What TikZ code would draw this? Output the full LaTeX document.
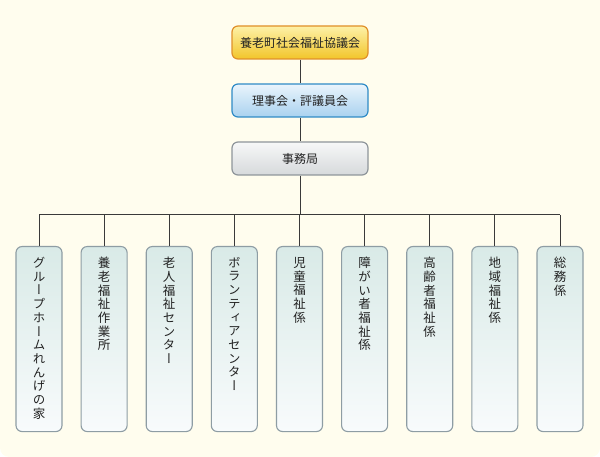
\documentclass[tikz,border=0pt]{standalone}
\usepackage{fontspec}
\setmainfont{Noto Sans CJK JP}
\newfontfamily\vfont[RawFeature=+vert]{Noto Sans CJK JP}
\definecolor{bgc}{HTML}{FFFDEE}
\definecolor{txt}{HTML}{222222}
\definecolor{linec}{HTML}{3A3A3A}
\definecolor{ytop}{HTML}{FDF1A8}
\definecolor{ybot}{HTML}{F2C52A}
\definecolor{yborder}{HTML}{E0902A}
\definecolor{btop}{HTML}{EAF4FC}
\definecolor{bbot}{HTML}{A9D2EF}
\definecolor{bborder}{HTML}{2F8BC6}
\definecolor{gtop}{HTML}{F7F8F8}
\definecolor{gbot}{HTML}{D6D9DB}
\definecolor{gborder}{HTML}{8E959A}
\definecolor{ttop}{HTML}{D9EAE7}
\definecolor{tbot}{HTML}{F8FBFC}
\definecolor{tborder}{HTML}{8E9DA4}
\tikzset{
  topbox/.style={draw, line width=1.2pt, rounded corners=6pt, minimum width=136pt, minimum height=33pt, inner sep=0pt, font=\fontsize{12}{14}\selectfont, text=txt},
  kaibox/.style={topbox, draw=yborder, top color=ytop, bottom color=ybot},
  rijibox/.style={topbox, draw=bborder, top color=btop, bottom color=bbot},
  jimubox/.style={topbox, draw=gborder, top color=gtop, bottom color=gbot},
  unitbox/.style={draw=tborder, line width=1.1pt, rounded corners=6pt, minimum width=46pt, minimum height=185pt, inner sep=0pt, top color=ttop, bottom color=tbot, anchor=north},
  vlabel/.style={anchor=north, align=center, inner sep=0pt, text=txt, font=\vfont\fontsize{12.5}{13.7}\selectfont},
  conn/.style={draw=linec, line width=1pt}
}
\begin{document}
\begin{tikzpicture}[x=1pt,y=-1pt]
\useasboundingbox (0,0) rectangle (600,457);
\fill[bgc, rounded corners=9pt] (0,0) rectangle (600,457);
\fill[bgc] (0,0) rectangle (600,30);
\node[kaibox] (kai) at (300,42.5) {養老町社会福祉協議会};
\node[rijibox] (riji) at (300,100.5) {理事会・評議員会};
\node[jimubox] (jimu) at (300,158.5) {事務局};
\coordinate (bus) at (300,215);
\foreach \i/\x in {1/39,2/104.1,3/169.2,4/234.3,5/299.5,6/364.6,7/429.7,8/494.8,9/560}{
  \node[unitbox] (u\i) at (\x,246) {};
}
\node[vlabel] (t1) at ([yshift=-11pt]u1.north) {グ\\ル\\ー\\プ\\ホ\\ー\\ム\\れ\\ん\\げ\\の\\家};
\node[vlabel] (t2) at ([yshift=-11pt]u2.north) {養\\老\\福\\祉\\作\\業\\所};
\node[vlabel] (t3) at ([yshift=-11pt]u3.north) {老\\人\\福\\祉\\セ\\ン\\タ\\ー};
\node[vlabel] (t4) at ([yshift=-11pt]u4.north) {ボ\\ラ\\ン\\テ\\ィ\\ア\\セ\\ン\\タ\\ー};
\node[vlabel] (t5) at ([yshift=-11pt]u5.north) {児\\童\\福\\祉\\係};
\node[vlabel] (t6) at ([yshift=-11pt]u6.north) {障\\が\\い\\者\\福\\祉\\係};
\node[vlabel] (t7) at ([yshift=-11pt]u7.north) {高\\齢\\者\\福\\祉\\係};
\node[vlabel] (t8) at ([yshift=-11pt]u8.north) {地\\域\\福\\祉\\係};
\node[vlabel] (t9) at ([yshift=-11pt]u9.north) {総\\務\\係};
\draw[conn] (kai) -- (riji);
\draw[conn] (riji) -- (jimu);
\draw[conn] (jimu) -- (bus);
\draw[conn] (u1.north |- bus) -- (u9.north |- bus);
\foreach \i in {1,...,9}{
  \draw[conn] (u\i.north |- bus) -- (u\i.north);
}
\end{tikzpicture}
\end{document}
